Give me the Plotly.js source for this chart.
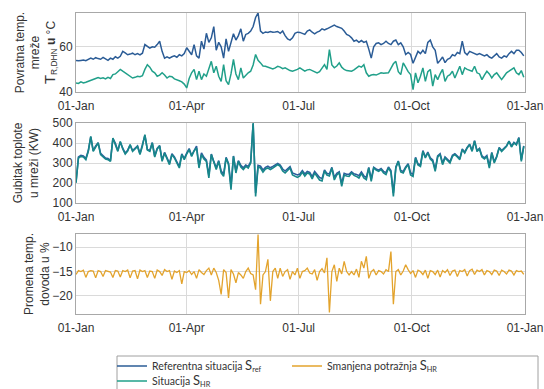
<!DOCTYPE html>
<html>
<head>
<meta charset="utf-8">
<script src="https://cdn.plot.ly/plotly-3.0.1.min.js"></script>
<style>html,body{margin:0;padding:0;background:#fff;}#chart{width:544px;height:389px;}</style>
</head>
<body>
<div id="chart"></div>
<script>
// Samples every 2nd day of the year
const startDate = '2019-01-01';
const stepDays = 2;

const tickDates = ['2019-01-01', '2019-04-01', '2019-07-01', '2019-10-01', '2020-01-01'];
const tickLabels = ['01-Jan', '01-Apr', '01-Jul', '01-Oct', '01-Jan'];

// Panel 1: return temperature of network, °C
const returnTempRef = [
  54, 53.8, 54, 54.2, 53.9, 54.5, 55, 54.5, 55.2, 54.8,
  54.5, 55.3, 54.5, 54, 55, 54.5, 55.6, 55, 55.8, 58,
  57.3, 56.5, 56.8, 57.2, 56.5, 57, 56.4, 57.2, 61, 60,
  59.4, 60, 59.8, 61, 62.5, 58, 55, 55.6, 55, 55.6,
  56, 55.4, 56.5, 56, 57, 59.6, 58, 56.5, 61, 56,
  55, 62.5, 59, 66, 62, 64, 69, 58.5, 62, 60,
  55, 63.5, 58, 62, 65.8, 63, 65, 68, 62.5, 65.5,
  66, 67, 69, 73, 75, 67, 66, 66.6, 66.4, 66.8,
  66.5, 66.6, 66.8, 66, 67, 65, 63.5, 63, 64, 66,
  66.5, 66.4, 66, 65.5, 67, 67.5, 66.5, 65.8, 66.5, 67,
  68, 67.5, 68, 68.5, 69, 69.6, 69, 68.5, 68.2, 67,
  65.5, 65, 64, 62.5, 63, 62, 62.8, 62, 62.5, 59,
  55, 60, 61.5, 61.8, 61, 61.5, 62.5, 61.5, 61, 62.5,
  63, 61, 61.8, 60, 56.6, 57.5, 56.6, 52.7, 55, 58,
  57, 58.5, 57, 62, 63, 60, 58.5, 52.7, 54, 55.5,
  53, 54.5, 55, 56.5, 56, 57.5, 57, 62.5, 57.5, 56.5,
  58, 57.5, 57, 56.5, 57, 56.5, 56, 56.5, 55.5, 55,
  56, 57, 55.5, 55, 56, 55.5, 57, 58, 57, 58.5,
  58.5, 57.5, 56
];
const returnTempHR = [
  44, 43.8, 44.5, 44, 44.3, 44.8, 45.3, 45.5, 46, 46.4,
  46, 46.3, 45.8, 46.5, 46, 47.7, 48, 49, 50, 49.2,
  48.5, 47.7, 47, 46.2, 46.5, 47, 46.8, 47.2, 50, 52.1,
  51, 49.2, 48.5, 47, 47.5, 48.5, 47.5, 46.2, 47, 46.8,
  45.8, 45.5, 45, 44.5, 43.5, 41.8, 46, 48.5, 50, 45.5,
  49.2, 45.5, 48, 47, 50.5, 53.6, 48.5, 51.4, 47, 44.7,
  52.1, 45, 43.3, 48, 54.4, 48, 45.5, 50.7, 46.2, 47.5,
  48.5, 49.2, 52, 56.6, 54, 52.9, 51.5, 51.4, 51, 50.7,
  50.2, 50.7, 51.4, 51, 50.3, 50.7, 50, 49.5, 49.2, 49.5,
  50, 50.7, 50, 49.2, 49.8, 50, 49.5, 49, 48.5, 49,
  50.5, 52.1, 50, 58.8, 52, 50.7, 51.5, 52.9, 51, 50,
  49.5, 49.5, 49.2, 49.8, 50.7, 51.5, 51, 52.1, 48.5, 47,
  47.5, 47.7, 47.5, 48, 48.5, 48.3, 48.5, 48.5, 50.5, 52.5,
  53.6, 49, 47.7, 52.9, 51, 49, 47.7, 41.1, 48.5, 44.1,
  47, 50.7, 44.7, 49, 50, 42.6, 47.7, 45.5, 48, 50,
  44.7, 47, 47.7, 49.2, 46.2, 49, 51.4, 47.7, 50.7, 50,
  49.5, 49.2, 51.4, 48.5, 48, 45.5, 47.5, 49.2, 48, 46.2,
  47.7, 48.5, 47, 45.5, 47, 48.5, 49.2, 50, 50.7, 48.5,
  47.7, 49.5, 46.5
];

// Panel 2: heat loss in network, kW
const heatLossRef = [
  205, 330, 338, 335, 322, 362, 430, 362, 385, 402,
  348, 338, 325, 322, 312, 422, 398, 362, 405, 374,
  350, 364, 390, 362, 374, 385, 347, 388, 438, 368,
  362, 402, 335, 373, 387, 314, 353, 326, 298, 346,
  330, 306, 282, 346, 322, 350, 372, 338, 366, 385,
  283, 350, 328, 315, 238, 345, 308, 276, 312, 260,
  244, 328, 298, 185, 335, 260, 312, 288, 276, 290,
  283, 305, 495, 150, 288, 284, 265, 278, 284, 276,
  283, 292, 298, 290, 270, 260, 272, 282, 250, 245,
  240, 245, 262, 245, 258, 253, 232, 258, 245, 228,
  222, 265, 248, 245, 278, 228, 248, 256, 198, 248,
  244, 243, 256, 246, 243, 236, 255, 236, 228, 278,
  220, 278, 270, 264, 272, 258, 252, 280, 262, 150,
  280, 310, 262, 258, 280, 296, 250, 244, 328, 296,
  290, 362, 330, 355, 326, 315, 268, 335, 346, 300,
  330, 316, 306, 338, 346, 335, 322, 370, 354, 378,
  394, 362, 412, 362, 373, 335, 326, 337, 284, 353,
  306, 334, 378, 362, 373, 386, 410, 384, 403, 394,
  428, 315, 386
];
const heatLossHR = [
  200, 325, 333, 330, 317, 358, 433, 358, 380, 400,
  342, 333, 320, 317, 308, 425, 395, 358, 408, 370,
  345, 360, 392, 358, 370, 383, 342, 385, 442, 365,
  358, 400, 330, 370, 385, 308, 350, 320, 292, 342,
  325, 300, 275, 342, 317, 345, 367, 333, 360, 375,
  275, 342, 320, 308, 225, 342, 300, 267, 308, 250,
  233, 325, 292, 167, 333, 250, 308, 280, 267, 283,
  275, 300, 500, 133, 280, 275, 255, 270, 275, 267,
  275, 285, 292, 283, 260, 250, 265, 275, 240, 233,
  228, 235, 255, 235, 250, 245, 220, 250, 235, 215,
  210, 260, 240, 235, 275, 215, 240, 250, 183, 240,
  235, 233, 250, 238, 233, 225, 248, 225, 217, 275,
  208, 275, 265, 258, 267, 250, 242, 275, 255, 133,
  275, 308, 255, 250, 275, 292, 240, 233, 325, 290,
  283, 358, 325, 350, 320, 308, 258, 330, 342, 292,
  325, 310, 300, 333, 342, 330, 317, 367, 350, 375,
  392, 358, 410, 358, 370, 330, 320, 333, 275, 350,
  300, 330, 375, 358, 370, 383, 408, 380, 400, 390,
  425, 308, 383
];

// Panel 3: change of supply temperature, %
const supplyTempChange = [
  -15.6, -14.8, -15, -14.7, -16.2, -15, -14.8, -14.9, -16.3, -14.8,
  -15, -16, -14.8, -14.9, -15.1, -16.2, -14.8, -14.9, -16.1, -14.8,
  -15, -14.7, -16.3, -14.9, -14.8, -16.5, -14.7, -15, -14.8, -16.2,
  -14.9, -15, -16.4, -14.7, -15, -15.8, -14.6, -15, -14.8, -16.6,
  -14.9, -15.2, -14.8, -17.5, -15, -15.2, -14.8, -15.6, -15, -16.4,
  -14.6, -15.2, -15.6, -14.8, -14.3, -15.7, -14.3, -15.2, -16.8, -19.7,
  -14.6, -15.2, -20.4, -14.6, -15.5, -17.3, -15.2, -15.7, -16.4, -15,
  -14.3, -15.4, -15.7, -18.7, -7.4, -21.7, -15.7, -15, -12.5, -21,
  -15, -14.3, -16.4, -14.3, -16, -15, -14.6, -16.6, -15, -15.7,
  -14.3, -16.4, -15, -14.8, -14.3, -15.3, -15.5, -14.6, -16.8, -15,
  -14.4, -15.3, -12.2, -23.4, -15, -13.6, -17, -14.3, -15.5, -12.9,
  -15, -15.7, -15, -15.7, -14.5, -16.2, -12.9, -14.3, -11.9, -16.4,
  -15, -14.6, -15.7, -14.8, -15, -15.5, -14.6, -15, -10.9, -21.7,
  -15, -14.6, -15.7, -14.9, -13.6, -14.6, -15.4, -14.8, -16.2, -14.7,
  -15, -15.6, -14.7, -16.4, -14.8, -15, -15.6, -14.7, -16.1, -14.8,
  -15.2, -14.6, -15.8, -14.9, -14.7, -16, -14.8, -15, -14.6, -15.9,
  -14.8, -14.5, -15.6, -14.7, -15, -14.6, -15.7, -14.8, -15, -15.6,
  -14.7, -14.9, -15.8, -14.7, -15, -15.5, -14.7, -14.9, -15.7, -14.8,
  -15, -14.9, -15.6
];

const seriesNames = {
  ref: 'Referentna situacija <span style="font-size:13px">S</span><sub>ref</sub>',
  hr: 'Situacija <span style="font-size:13px">S</span><sub>HR</sub>',
  red: 'Smanjena potražnja <span style="font-size:13px">S</span><sub>HR</sub>'
};

function datesFor(arr) {
  const t0 = Date.parse(startDate + 'T00:00:00Z');
  return arr.map((_, i) => new Date(t0 + i * stepDays * 86400000).toISOString().slice(0, 10));
}

const BLUE = '#2b5c96';
const TEAL = '#21a08a';
const BLUE2 = '#2d5d9c';
const TEAL2 = '#17878a';
const ORANGE = '#e3a32c';

const traces = [
  {x: datesFor(returnTempRef), y: returnTempRef, xaxis: 'x', yaxis: 'y', type: 'scatter', mode: 'lines',
   name: seriesNames.ref, legend: 'legend', legendrank: 1, line: {color: BLUE, width: 1.5}},
  {x: datesFor(returnTempHR), y: returnTempHR, xaxis: 'x', yaxis: 'y', type: 'scatter', mode: 'lines',
   name: seriesNames.hr, legend: 'legend2', line: {color: TEAL, width: 1.5}},
  {x: datesFor(heatLossRef), y: heatLossRef, xaxis: 'x2', yaxis: 'y2', type: 'scatter', mode: 'lines',
   name: seriesNames.ref, showlegend: false, line: {color: BLUE2, width: 1.6}},
  {x: datesFor(heatLossHR), y: heatLossHR, xaxis: 'x2', yaxis: 'y2', type: 'scatter', mode: 'lines',
   name: seriesNames.hr, showlegend: false, line: {color: TEAL2, width: 1.6}},
  {x: datesFor(supplyTempChange), y: supplyTempChange, xaxis: 'x3', yaxis: 'y3', type: 'scatter', mode: 'lines',
   name: seriesNames.red, legend: 'legend', legendrank: 2, line: {color: ORANGE, width: 1.3}}
];

const W = 544, H = 389;
const ML = 40, MR = 19;           // fixed margins (px)
const GW = W - ML - MR;           // plot-area width
function px(xpix) { return (xpix - ML) / GW; }
const xDom = [px(76), px(525)];
function yDom(top, bottom) { return [1 - bottom / H, 1 - top / H]; }

const FONT = 'Liberation Sans, Arial, sans-serif';
const tickFont = {family: FONT, size: 12, color: '#333333'};
const titleFont = {family: FONT, size: 12, color: '#333333'};
const GRID = '#dadada';
const LINE = '#a8a8a8';
const legendFont = {family: 'Lato, sans-serif', size: 10.5, color: '#333333'};

function xAxis(anchor) {
  return {
    domain: xDom, anchor: anchor, type: 'date',
    range: ['2019-01-01', '2020-01-01'],
    tickmode: 'array', tickvals: tickDates, ticktext: tickLabels,
    showgrid: true, gridcolor: GRID, gridwidth: 1,
    showline: true, linecolor: LINE, linewidth: 1, mirror: true,
    ticks: '', tickfont: tickFont, zeroline: false, fixedrange: true,
    ticklabelstandoff: 3
  };
}
function yAxis(anchor, dom, range, tickvals, suffix, title, standoff) {
  return {
    domain: dom, anchor: anchor, range: range,
    tickmode: 'array', tickvals: tickvals, ticksuffix: suffix || '',
    showgrid: true, gridcolor: GRID, gridwidth: 1,
    showline: true, linecolor: LINE, linewidth: 1, mirror: true,
    ticks: '', tickfont: tickFont, zeroline: false, fixedrange: true,
    title: {text: title, font: titleFont, standoff: standoff}
  };
}

const layout = {
  width: W, height: H,
  margin: {l: ML, r: MR, t: 0, b: 0, autoexpand: false},
  paper_bgcolor: '#ffffff', plot_bgcolor: '#ffffff',
  showlegend: true,
  xaxis: xAxis('y'),
  yaxis: yAxis('x', yDom(13, 92), [40, 75], [40, 60], '',
    'Povratna temp.<br>mreže<br><span style="font-size:15px">T</span><sub>R,DHN</sub> <b>u</b> °C', 0),
  xaxis2: xAxis('y2'),
  yaxis2: yAxis('x2', yDom(123, 203), [100, 500], [100, 200, 300, 400, 500], '',
    'Gubitak toplote<br>u mreži (KW)', 11),
  xaxis3: xAxis('y3'),
  yaxis3: yAxis('x3', yDom(234, 314), [-23.7, -7.3], [-20, -15, -10], '%',
    'Promena temp.<br>dovoda u %', 0),
  legend: {
    orientation: 'h', x: px(112), y: 1 - 366 / H, xanchor: 'left', yanchor: 'middle',
    bgcolor: 'rgba(0,0,0,0)', borderwidth: 0, font: legendFont,
    entrywidth: 130, entrywidthmode: 'pixels', itemwidth: 30
  },
  legend2: {
    orientation: 'h', x: px(112), y: 1 - 381 / H, xanchor: 'left', yanchor: 'middle',
    bgcolor: 'rgba(0,0,0,0)', borderwidth: 0, font: legendFont,
    entrywidth: 130, entrywidthmode: 'pixels', itemwidth: 30
  },
  shapes: [{
    type: 'rect', xref: 'paper', yref: 'paper',
    x0: px(117), x1: px(538), y0: -0.05, y1: 1 - 356 / H,
    line: {color: '#a0a0a0', width: 1}, fillcolor: 'rgba(0,0,0,0)'
  }]
};

Plotly.newPlot('chart', traces, layout, {displayModeBar: false, staticPlot: true});
</script>
</body>
</html>
